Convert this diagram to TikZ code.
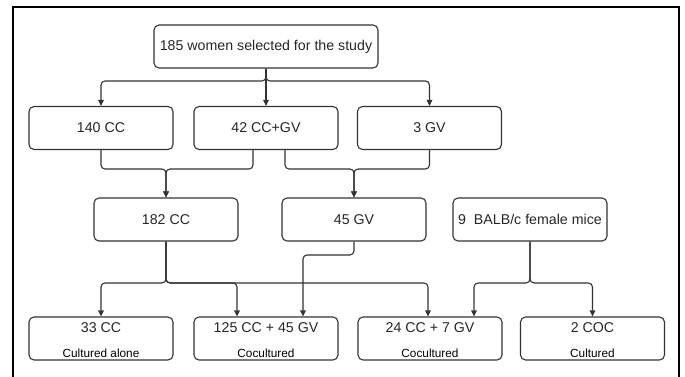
\documentclass[tikz,border=0pt]{standalone}
\usepackage{fontspec}
\setmainfont{Liberation Sans}
\usepackage{tikz}
\usetikzlibrary{arrows.meta}
\definecolor{linegray}{HTML}{333333}

\tikzset{
  box/.style={draw=linegray, line width=1.1pt, rounded corners=5pt,
    minimum width=144pt, minimum height=43pt, inner sep=0pt,
    text=black!85, font=\fontsize{14.2}{16}\selectfont},
  link/.style={draw=linegray, line width=1.1pt, rounded corners=4pt,
    -{Triangle[length=6pt,width=5.5pt]}},
  small/.style={font=\fontsize{11.8}{13}\selectfont}
}

\begin{document}
\begin{tikzpicture}[x=1pt, y=-1pt]
\useasboundingbox (0,0) rectangle (685,377);
\draw[line width=2pt] (12.5,377) -- (12.5,7) -- (679,7) -- (679,377);

% boxes
\node[box, minimum width=224pt] (women) at (266,46.5) {185 women selected for the study};
\node[box] (cc140) at (101,128) {140 CC};
\node[box] (ccgv42) at (266,128) {42 CC+GV};
\node[box] (gv3) at (429.5,128) {3 GV};
\node[box] (cc182) at (166,219.5) {182 CC};
\node[box] (gv45) at (354,219.5) {45 GV};
\node[box, minimum width=154pt] (mice) at (530,219.5) {9\ \ BALB/c female mice};
\node[box] (cc33) at (101,338.5) {};
\node[box] (mix125) at (266,338.5) {};
\node[box] (mix24) at (430,338.5) {};
\node[box] (coc2) at (592.5,338.5) {};

% box texts, two lines
\node[box, draw=none, minimum height=0pt] (cc33t) at (101,328) {33 CC};
\node[small] (cc33s) at (101,353) {Cultured alone};
\node[box, draw=none, minimum height=0pt] (mix125t) at (266,328) {125 CC + 45 GV};
\node[small] (mix125s) at (266,353) {Cocultured};
\node[box, draw=none, minimum height=0pt] (mix24t) at (430,328) {24 CC + 7 GV};
\node[small] (mix24s) at (430,353) {Cocultured};
\node[box, draw=none, minimum height=0pt] (coc2t) at (592.5,328) {2 COC};
\node[small] (coc2s) at (592.5,353) {Cultured};

% first split
\draw[link] (women.south) -- (266,81) -| (cc140.north);
\draw[link] (women.south) -- (ccgv42.north);
\draw[link] (women.south) -- (266,81) -| (gv3.north);

% merge into 182 CC and 45 GV
\draw[link] (cc140.south) |- (166,169) -- (cc182.north);
\draw[link] ([xshift=-13pt]ccgv42.south) |- (166,169) -- (cc182.north);
\draw[link] ([xshift=19pt]ccgv42.south) |- (354,169) -- (gv45.north);
\draw[link] (gv3.south) |- (354,169) -- (gv45.north);

% to the cultures
\draw[link] (cc182.south) -- (166,283) -| (cc33.north);
\draw[link] (cc182.south) -- (166,283) -| ([xshift=-29pt]mix125.north);
\draw[link] (cc182.south) -- (166,283) -| ([xshift=-2pt]mix24.north);
\draw[link] (gv45.south) |- (303,255) -- ([xshift=37pt]mix125.north);
\draw[link] (mice.south) -- (530,283) -| ([xshift=44pt]mix24.north);
\draw[link] (mice.south) -- (530,283) -| (coc2.north);
\end{tikzpicture}
\end{document}
